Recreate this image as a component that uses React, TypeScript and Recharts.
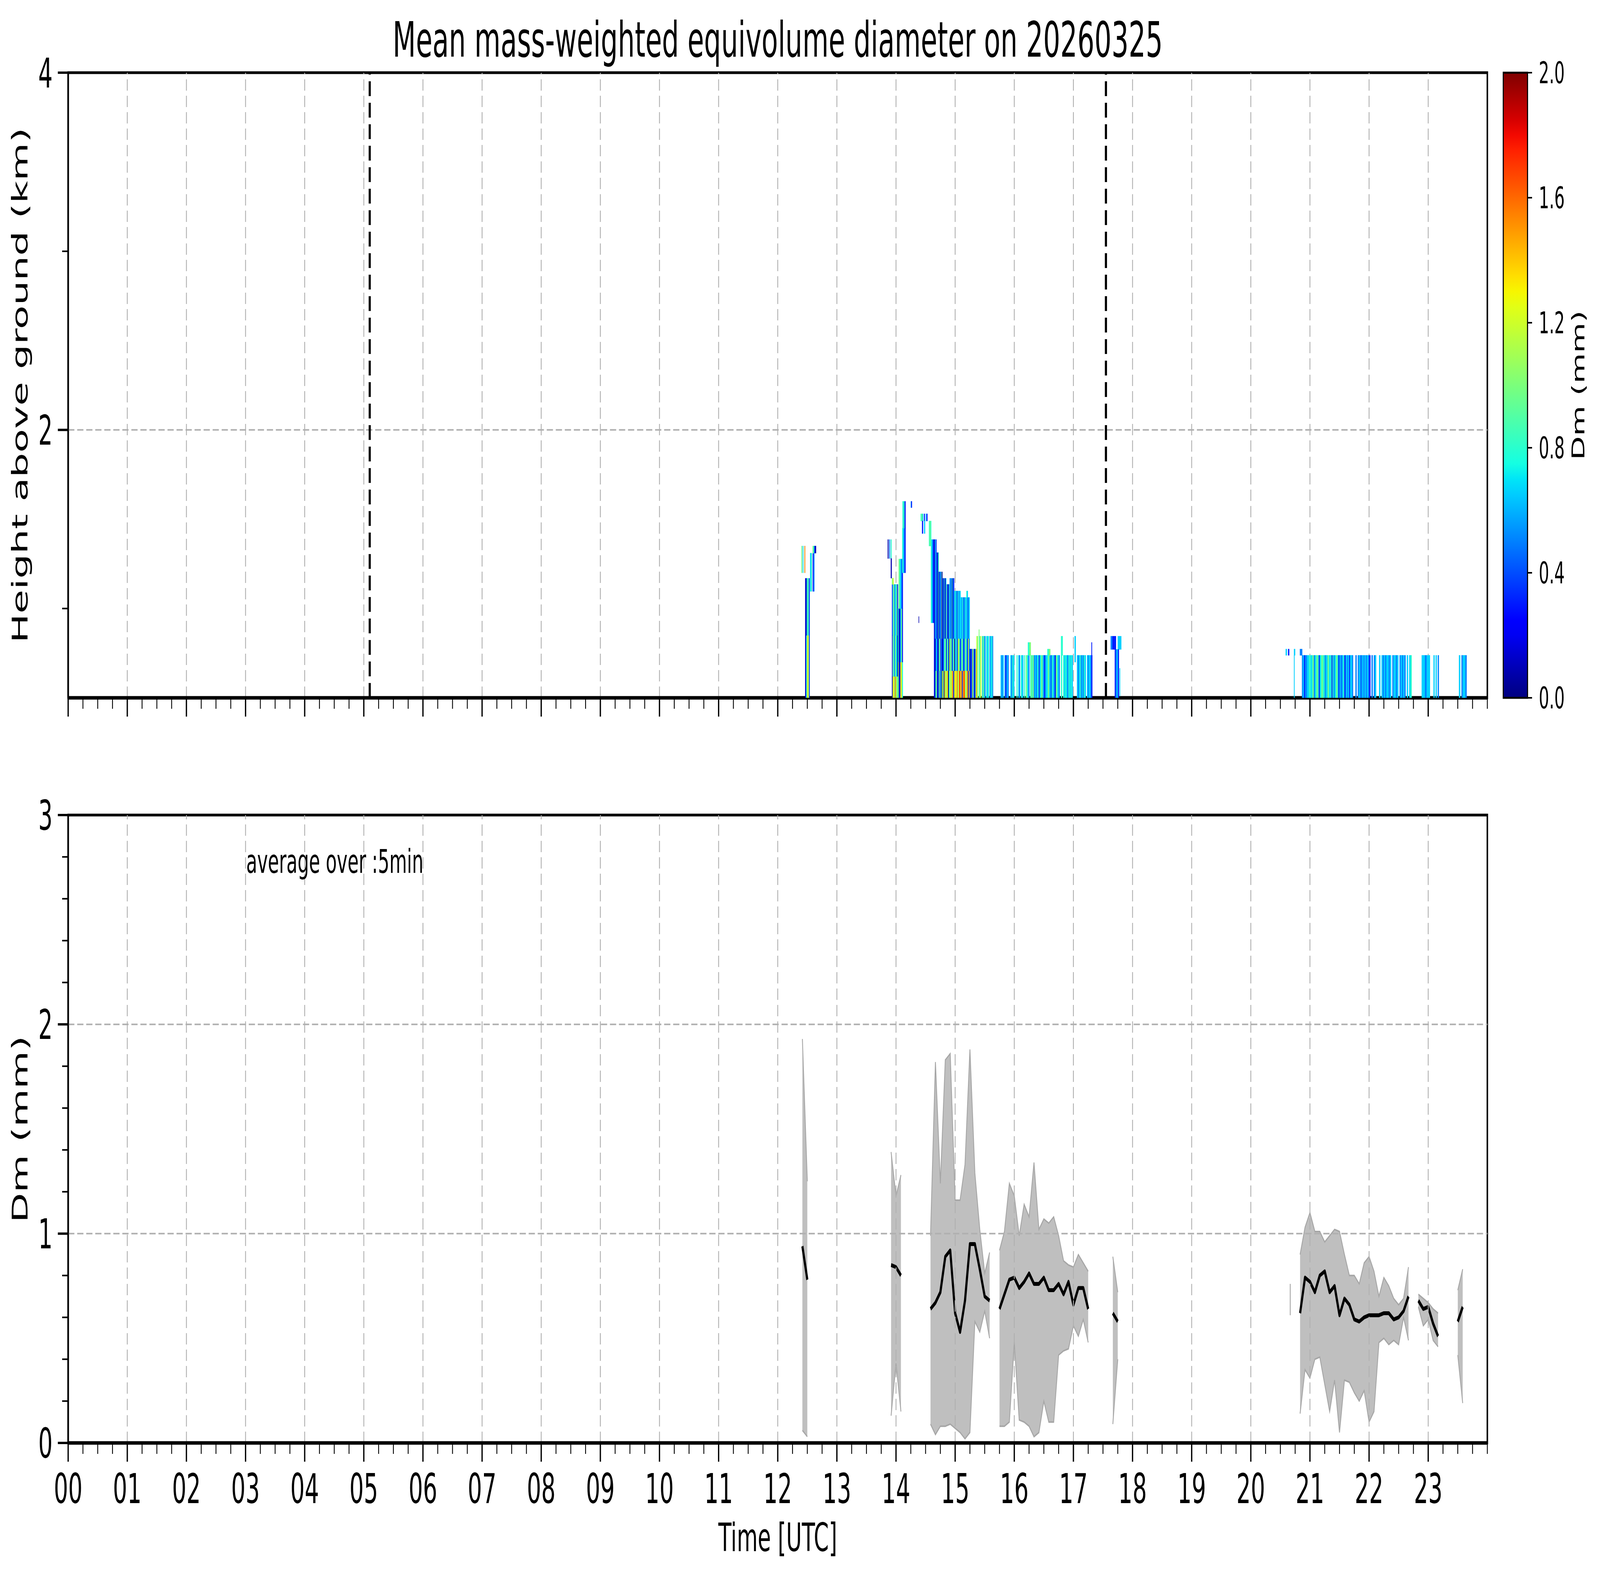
import React from "react";
import {
  ScatterChart,
  Scatter,
  ComposedChart,
  Area,
  Line,
  XAxis,
  YAxis,
  ReferenceLine,
  ReferenceArea,
  ErrorBar,
  BarChart,
  Bar,
} from "recharts";

const FONT = "DejaVu Sans";
const FIG_W = 7442;
const FIG_H = 4031;

// plot frame in figure pixels (both panels share x)
const PLOT_LEFT = 317;
const PLOT_RIGHT = 6918;
const TOP_Y0 = 186;
const TOP_Y1 = 1786;
const H_MIN = 0.5;
const H_MAX = 4;

// ---- ticks ----
const hourLabels = [
  "00", "01", "02", "03", "04", "05", "06", "07", "08", "09", "10", "11",
  "12", "13", "14", "15", "16", "17", "18", "19", "20", "21", "22", "23",
];
const hours = hourLabels.map((_, i) => i);
const quarterTicks = [...hours.flatMap((h) => [h, h + 0.25, h + 0.5, h + 0.75]), 24];
const gridHours = hours.filter((h) => h > 0);

const heightTicks = [1, 2, 3, 4];
const heightMajor = [2, 4];
const dmTicks = [0, 0.2, 0.4, 0.6, 0.8, 1, 1.2, 1.4, 1.6, 1.8, 2, 2.2, 2.4, 2.6, 2.8, 3];
const dmMajor = [0, 1, 2, 3];
const dmGrid = [1, 2];
const colorbarTicks = [0, 0.4, 0.8, 1.2, 1.6, 2.0];

// vertical dashed markers in the upper panel (UTC hours)
const markerTimes = [5.1, 17.55];

// ---- upper panel: radar Dm, read as blocks of columns ----
// [t0, t1, h0 (km), h1 (km), one code per column ('.' = no echo)]
const DM_CODES: Record<string, number> = {
  n: 0.08, b: 0.3, a: 0.5, c: 0.66, t: 0.8, g: 1.0, l: 1.2, y: 1.35, o: 1.55, r: 1.8,
};

const echo1230 = [
  [12.464, 12.54, 0.5, 0.85, "nbtgylgb"],
  [12.464, 12.54, 0.85, 1.169, "nbnttgcb"],
  [12.4, 12.464, 1.2, 1.35, "g.c..o"],
  [12.548, 12.62, 1.096, 1.31, "ct.ba"],
  [12.59, 12.648, 1.31, 1.35, "gtbn"],
];

const echo1400 = [
  [13.86, 13.925, 1.28, 1.386, "n.a.t"],
  [13.912, 13.927, 1.17, 1.28, "n"],
  [13.932, 14.034, 0.5, 0.62, "nlygoglt"],
  [13.932, 14.034, 0.62, 0.85, "bgtagtcn"],
  [13.932, 14.034, 0.85, 1.135, "btgatcgb"],
  [13.932, 13.96, 1.135, 1.17, "gl"],
  [14.034, 14.116, 0.5, 0.7, "gnbylt"],
  [14.034, 14.116, 0.7, 1.0, "tnbcgb"],
  [14.045, 14.116, 1.0, 1.277, "gtcab"],
  [14.105, 14.162, 1.2, 1.45, "tcab"],
  [14.11, 14.162, 1.45, 1.6, "ttb"],
  [14.25, 14.27, 1.565, 1.6, "ab"],
  [14.383, 14.39, 0.92, 0.955, "n"],
  [14.417, 14.532, 1.49, 1.53, "tgc.b.cb"],
  [14.44, 14.51, 1.42, 1.49, "b.c."],
  [14.557, 14.596, 1.35, 1.49, "tgt"],
];

const echo1500 = [
  [14.59, 14.642, 0.92, 1.386, "tcab"],
  [14.642, 14.685, 0.83, 1.386, "bnacb"],
  [14.685, 14.723, 0.83, 1.313, "abnt"],
  [14.723, 14.787, 0.83, 1.205, "nbcabgn"],
  [14.787, 14.851, 0.83, 1.169, "bantbnc"],
  [14.851, 14.907, 0.83, 1.135, "gbanbt"],
  [14.907, 14.984, 0.83, 1.169, "acbtnab"],
  [14.984, 15.093, 0.83, 1.098, "ctcacbtcacc"],
  [15.093, 15.247, 0.83, 1.062, "ccatcbcactcacbcc"],
  [15.19, 15.215, 1.062, 1.098, "tc"],
  [14.642, 14.82, 0.65, 0.83, "bnacbntgbanbc"],
  [14.642, 14.82, 0.5, 0.65, "bntgbnagbtnlgn"],
  [14.82, 15.0, 0.65, 0.83, "gtbgcnltgbcgn"],
  [14.82, 15.0, 0.5, 0.65, "yglyntlgyobl"],
  [15.0, 15.247, 0.65, 0.83, "ctbglcbtgabtgcbla"],
  [15.0, 15.247, 0.5, 0.65, "ylogyrlobyrygloby"],
  [15.247, 15.361, 0.5, 0.773, "bnabltbnco"],
  [15.361, 15.489, 0.5, 0.845, "lg.gtl.gcg"],
  [15.4, 15.41, 0.845, 0.882, "g"],
  [15.489, 15.642, 0.5, 0.845, "ca.tcct.accta"],
];

const echo1630 = [
  [15.77, 15.905, 0.5, 0.738, "cac.abca"],
  [15.935, 16.0, 0.5, 0.738, "catc"],
  [16.04, 16.14, 0.5, 0.738, "t.ca.tc"],
  [16.14, 16.3, 0.5, 0.738, "c.t.gtca.tg"],
  [16.23, 16.28, 0.738, 0.81, "tg"],
  [16.3, 16.77, 0.5, 0.738, "tgacactbctgcabcctgcaatcabgtca"],
  [16.56, 16.61, 0.738, 0.773, "tg"],
  [16.79, 16.99, 0.5, 0.738, "t.tctcatctc"],
  [16.79, 16.82, 0.738, 0.845, "tt"],
  [17.02, 17.04, 0.7, 0.845, "c"],
  [17.06, 17.21, 0.5, 0.738, "cactacatc"],
  [17.23, 17.32, 0.5, 0.738, "caccab"],
  [17.305, 17.315, 0.738, 0.81, "b"],
];

const echo1740 = [
  [17.63, 17.81, 0.771, 0.845, "abb.cc"],
  [17.7, 17.77, 0.5, 0.771, "bacb"],
  [17.78, 17.79, 0.51, 0.665, "c"],
];

const echo2130 = [
  [20.59, 20.87, 0.738, 0.773, "c.b....c....aa"],
  [20.73, 20.74, 0.5, 0.738, "c"],
  [20.865, 21.0, 0.5, 0.738, "acbaacct"],
  [21.0, 21.5, 0.5, 0.738, "tctgactgtbctgttaccgtctbtactgcb"],
  [21.5, 21.73, 0.5, 0.738, "caactbacacbcca"],
  [21.77, 22.12, 0.5, 0.738, "a.acaacacacab.a.ac"],
  [22.17, 22.72, 0.5, 0.738, "c.cacaccac.accac.acaca.c.ct"],
  [22.89, 23.03, 0.5, 0.738, "ccacc"],
  [23.09, 23.18, 0.5, 0.738, "c.c.a"],
  [23.52, 23.65, 0.5, 0.738, "c.acca"],
];

// ---- lower panel: 5-min mean Dm and spread, by slot (slot / 12 = hour) ----
const seg1225 = { start: 149, mean: [0.94, 0.78], lo: [0.06, 0.03], hi: [1.93, 1.25] };
const seg1400 = { start: 167, mean: [0.85, 0.84, 0.8], lo: [0.13, 0.38, 0.15], hi: [1.39, 1.18, 1.28] };
const seg1500 = {
  start: 175,
  mean: [0.64, 0.67, 0.72, 0.89, 0.92, 0.62, 0.53, 0.68, 0.95, 0.95, 0.83, 0.7, 0.68],
  lo: [0.09, 0.04, 0.08, 0.08, 0.09, 0.07, 0.05, 0.02, 0.05, 0.58, 0.53, 0.63, 0.5],
  hi: [0.99, 1.82, 1.24, 1.83, 1.86, 1.16, 1.16, 1.33, 1.88, 1.29, 1.02, 0.81, 0.91],
};
const seg1630 = {
  start: 189,
  mean: [0.64, 0.71, 0.78, 0.79, 0.74, 0.77, 0.81, 0.76, 0.76, 0.79, 0.73, 0.73, 0.76, 0.71, 0.77, 0.66, 0.74, 0.74, 0.64],
  lo: [0.08, 0.08, 0.1, 0.48, 0.11, 0.1, 0.08, 0.03, 0.05, 0.2, 0.1, 0.1, 0.42, 0.44, 0.45, 0.56, 0.51, 0.59, 0.48],
  hi: [0.92, 1.01, 1.24, 1.18, 0.99, 1.14, 1.08, 1.34, 1.02, 1.07, 1.05, 1.08, 0.99, 0.87, 0.85, 0.84, 0.9, 0.86, 0.82],
};
const seg1740 = { start: 212, mean: [0.62, 0.58], lo: [0.09, 0.4], hi: [0.89, 0.72] };
const seg2145 = {
  start: 250,
  mean: [0.62, 0.79, 0.77, 0.72, 0.8, 0.82, 0.72, 0.75, 0.61, 0.69, 0.66, 0.59, 0.58, 0.6, 0.61, 0.61, 0.61, 0.62, 0.62, 0.59, 0.6, 0.63, 0.7],
  lo: [0.14, 0.35, 0.31, 0.4, 0.41, 0.28, 0.15, 0.3, 0.05, 0.3, 0.29, 0.24, 0.2, 0.25, 0.1, 0.15, 0.48, 0.5, 0.47, 0.49, 0.47, 0.6, 0.49],
  hi: [0.9, 1.03, 1.1, 1.01, 1.01, 0.96, 0.99, 1.02, 1.01, 0.9, 0.8, 0.8, 0.76, 0.86, 0.89, 0.82, 0.7, 0.79, 0.75, 0.69, 0.66, 0.69, 0.84],
};
const seg2255 = {
  start: 274,
  mean: [0.68, 0.64, 0.65, 0.57, 0.51],
  lo: [0.65, 0.56, 0.59, 0.49, 0.46],
  hi: [0.71, 0.69, 0.67, 0.64, 0.62],
};
const seg2330 = { start: 282, mean: [0.58, 0.65], lo: [0.42, 0.19], hi: [0.73, 0.83] };
// a single 5-min slot with spread only
const lone2040 = { slot: 248, lo: 0.61, hi: 0.76 };

// ---- jet colormap ----
const JET_R = [[0, 0], [0.35, 0], [0.66, 1], [0.89, 1], [1, 0.5]];
const JET_G = [[0, 0], [0.125, 0], [0.375, 1], [0.64, 1], [0.91, 0], [1, 0]];
const JET_B = [[0, 0.5], [0.11, 1], [0.34, 1], [0.65, 0], [1, 0]];

function interp(pts: number[][], x: number) {
  for (let i = 1; i < pts.length; i++) {
    if (x <= pts[i][0]) {
      const [x0, y0] = pts[i - 1];
      const [x1, y1] = pts[i];
      return y0 + ((x - x0) / (x1 - x0)) * (y1 - y0);
    }
  }
  return pts[pts.length - 1][1];
}

function jet(dm: number) {
  const x = Math.max(0, Math.min(1, dm / 2));
  const c = (p: number[][]) => Math.round(interp(p, x) * 255);
  return `rgb(${c(JET_R)},${c(JET_G)},${c(JET_B)})`;
}

// ---- build the series ----
const heatCells = [...echo1230, ...echo1400, ...echo1500, ...echo1630, ...echo1740, ...echo2130].flatMap(
  ([t0, t1, h0, h1, codes]: any) => {
    const dt = (t1 - t0) / codes.length;
    return codes
      .split("")
      .map((code: string, i: number) =>
        code === "." ? null : { t: t0 + (i + 0.5) * dt, h: (h0 + h1) / 2, w: dt, hh: h1 - h0, dm: DM_CODES[code] }
      )
      .filter(Boolean);
  }
);

const segments = [seg1225, seg1400, seg1500, seg1630, seg1740, seg2145, seg2255, seg2330];
const dmRows: any[] = [];
segments.forEach((s) => {
  s.mean.forEach((m, i) => dmRows.push({ t: (s.start + i) / 12, mean: m, band: [s.lo[i], s.hi[i]] }));
  dmRows.push({ t: (s.start + s.mean.length) / 12, mean: null, band: null });
});

const loneRows = [lone2040].map((p) => {
  const mid = (p.lo + p.hi) / 2;
  return { t: p.slot / 12, mid, err: [mid - p.lo, p.hi - mid] };
});

const PX_PER_HOUR = (PLOT_RIGHT - PLOT_LEFT) / 24;
const PX_PER_KM = (TOP_Y1 - TOP_Y0) / (H_MAX - H_MIN);

function HeatCell(props: any) {
  const { cx, cy, payload } = props;
  if (cx == null || cy == null) return null;
  const w = payload.w * PX_PER_HOUR + 0.8;
  const h = payload.hh * PX_PER_KM + 0.8;
  return <rect x={cx - w / 2} y={cy - h / 2} width={w} height={h} fill={jet(payload.dm)} />;
}

function TimeTick(props: any) {
  const { x, y, payload, showLabels } = props;
  const v = payload.value;
  const major = Number.isInteger(v) && v < 24;
  return (
    <g>
      <line x1={x} x2={x} y1={y} y2={y + (major ? 48 : 28)} stroke="#000" strokeWidth={major ? 6 : 4} />
      {showLabels && major && (
        <text x={x} y={y + 154} textAnchor="middle" fontSize={105} fontFamily={FONT} fill="#000">
          {hourLabels[v]}
        </text>
      )}
    </g>
  );
}

function ValueTick(props: any) {
  const { x, y, payload, majors } = props;
  const v = payload.value;
  const major = majors.includes(v);
  return (
    <g>
      <line x1={x - (major ? 48 : 28)} x2={x} y1={y} y2={y} stroke="#000" strokeWidth={major ? 6 : 4} />
      {major && (
        <text x={x - 72} y={y} dy="0.36em" textAnchor="end" fontSize={105} fontFamily={FONT} fill="#000">
          {String(v)}
        </text>
      )}
    </g>
  );
}

const GRID = { stroke: "#b0b0b0", strokeWidth: 4, strokeDasharray: "29 13" };

export default function App() {
  // the browser caps the window below the figure size; fit the 7442x4031 figure into it
  const sx = typeof window !== "undefined" ? Math.min(1, window.innerWidth / FIG_W) : 1;
  const sy = typeof window !== "undefined" ? Math.min(1, window.innerHeight / FIG_H) : 1;

  return (
    <div style={{ position: "relative", width: FIG_W * sx, height: FIG_H * sy, margin: -8, overflow: "hidden" }}>
      <div
        style={{
          position: "absolute",
          left: 0,
          top: 0,
          width: FIG_W,
          height: FIG_H,
          background: "#fff",
          transform: `scale(${sx}, ${sy})`,
          transformOrigin: "0 0",
        }}
      >
        {/* upper panel */}
        <div style={{ position: "absolute", left: 0, top: 0 }}>
          <ScatterChart width={FIG_W} height={1900} margin={{ top: 186, right: FIG_W - PLOT_RIGHT, bottom: 54, left: 117 }}>
            <XAxis
              dataKey="t"
              type="number"
              domain={[0, 24]}
              ticks={quarterTicks}
              interval={0}
              allowDataOverflow
              height={60}
              tickLine={false}
              tickSize={0}
              tickMargin={0}
              axisLine={{ stroke: "#000", strokeWidth: 9 }}
              tick={(p: any) => <TimeTick {...p} showLabels={false} />}
            />
            <YAxis
              dataKey="h"
              type="number"
              domain={[H_MIN, H_MAX]}
              ticks={heightTicks}
              interval={0}
              allowDataOverflow
              width={200}
              tickLine={false}
              tickSize={0}
              tickMargin={0}
              axisLine={{ stroke: "#000", strokeWidth: 7 }}
              tick={(p: any) => <ValueTick {...p} majors={heightMajor} />}
            />
            <Scatter data={heatCells} shape={HeatCell} isAnimationActive={false} />
            {gridHours.map((h) => (
              <ReferenceLine key={`g${h}`} x={h} {...GRID} />
            ))}
            <ReferenceLine y={2} {...GRID} />
            {markerTimes.map((t) => (
              <ReferenceLine key={`m${t}`} x={t} stroke="#000" strokeWidth={10} strokeDasharray="38 17" />
            ))}
            <ReferenceArea x1={0} x2={24} y1={H_MIN} y2={H_MAX} fill="none" stroke="#000" strokeWidth={7} />
          </ScatterChart>
        </div>

        {/* colorbar */}
        <div style={{ position: "absolute", left: 6982, top: 0 }}>
          <BarChart
            width={450}
            height={1900}
            data={[{ k: "Dm", v: 2 }]}
            margin={{ top: 186, right: 107, bottom: 1900 - TOP_Y1, left: 10 }}
            barCategoryGap={0}
          >
            <defs>
              <linearGradient id="jetGrad" x1="0" y1="1" x2="0" y2="0">
                {Array.from({ length: 41 }, (_, i) => (
                  <stop key={i} offset={i / 40} stopColor={jet((i / 40) * 2)} />
                ))}
              </linearGradient>
            </defs>
            <XAxis dataKey="k" hide />
            <YAxis
              orientation="right"
              type="number"
              domain={[0, 2]}
              ticks={colorbarTicks}
              interval={0}
              width={220}
              axisLine={false}
              tickSize={21}
              tickMargin={31}
              tickLine={{ stroke: "#000", strokeWidth: 4 }}
              tickFormatter={(v: number) => v.toFixed(1)}
              tick={{ fontSize: 76, fill: "#000", fontFamily: FONT }}
            />
            <Bar dataKey="v" fill="url(#jetGrad)" stroke="#000" strokeWidth={5} isAnimationActive={false} />
          </BarChart>
        </div>

        {/* lower panel */}
        <div style={{ position: "absolute", left: 0, top: 2000 }}>
          <ComposedChart
            width={FIG_W}
            height={2031}
            data={dmRows}
            margin={{ top: 86, right: FIG_W - PLOT_RIGHT, bottom: 278, left: 117 }}
          >
            <XAxis
              dataKey="t"
              type="number"
              domain={[0, 24]}
              ticks={quarterTicks}
              interval={0}
              allowDataOverflow
              height={60}
              tickLine={false}
              tickSize={0}
              tickMargin={0}
              axisLine={{ stroke: "#000", strokeWidth: 9 }}
              tick={(p: any) => <TimeTick {...p} showLabels />}
            />
            <YAxis
              type="number"
              domain={[0, 3]}
              ticks={dmTicks}
              interval={0}
              allowDataOverflow
              width={200}
              tickLine={false}
              tickSize={0}
              tickMargin={0}
              axisLine={{ stroke: "#000", strokeWidth: 7 }}
              tick={(p: any) => <ValueTick {...p} majors={dmMajor} />}
            />
            <Area
              type="linear"
              dataKey="band"
              stroke="#a6a6a6"
              strokeWidth={4}
              fill="#bfbfbf"
              fillOpacity={1}
              connectNulls={false}
              isAnimationActive={false}
            />
            <Line
              type="linear"
              dataKey="mean"
              stroke="#000"
              strokeWidth={10}
              strokeLinejoin="round"
              dot={false}
              connectNulls={false}
              isAnimationActive={false}
            />
            <Scatter data={loneRows} dataKey="mid" shape={() => <g />} isAnimationActive={false}>
              <ErrorBar dataKey="err" direction="y" width={0} stroke="#a6a6a6" strokeWidth={4} isAnimationActive={false} />
            </Scatter>
            {gridHours.map((h) => (
              <ReferenceLine key={`g${h}`} x={h} {...GRID} />
            ))}
            {dmGrid.map((v) => (
              <ReferenceLine key={`d${v}`} y={v} {...GRID} />
            ))}
            <ReferenceArea x1={0} x2={24} y1={0} y2={3} fill="none" stroke="#000" strokeWidth={7} />
          </ComposedChart>
        </div>

        {/* titles and annotations */}
        <svg
          width={FIG_W}
          height={FIG_H}
          style={{ position: "absolute", left: 0, top: 0, pointerEvents: "none" }}
          fontFamily={FONT}
        >
          <text x={(PLOT_LEFT + PLOT_RIGHT) / 2} y={145} textAnchor="middle" fontSize={125} fill="#000">
            Mean mass-weighted equivolume diameter on 20260325
          </text>
          <text transform="translate(127,986) rotate(-90)" textAnchor="middle" fontSize={100} fill="#000">
            Height above ground (km)
          </text>
          <text transform="translate(127,2890) rotate(-90)" textAnchor="middle" fontSize={100} fill="#000">
            Dm (mm)
          </text>
          <text transform="translate(7370,986) rotate(-90)" textAnchor="middle" fontSize={80} fill="#000">
            Dm (mm)
          </text>
          <text x={(PLOT_LEFT + PLOT_RIGHT) / 2} y={3970} textAnchor="middle" fontSize={100} fill="#000">
            Time [UTC]
          </text>
          <text x={1145} y={2234} fontSize={84} fill="#000">
            average over :5min
          </text>
        </svg>
      </div>
    </div>
  );
}
